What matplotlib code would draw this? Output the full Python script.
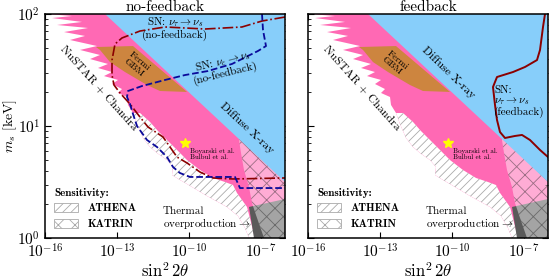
import numpy as np
import matplotlib
matplotlib.use('Agg')
import matplotlib.pyplot as plt
from matplotlib.patches import Patch
from matplotlib.font_manager import FontProperties
from matplotlib.ticker import FixedLocator, NullLocator

plt.rcParams['font.family'] = 'cmr10'
plt.rcParams['mathtext.fontset'] = 'cm'
plt.rcParams['axes.formatter.use_mathtext'] = True
plt.rcParams['hatch.linewidth'] = 0.6

# all values are log10(sin^2 2theta), log10(m_s / keV)
# NuSTAR + Chandra edge (jagged), top to bottom
nustar_lx = np.array([-15.917, -14.875, -15.708, -14.458, -15.5, -14.208, -15.208, -14.333,
                      -14.958, -13.833, -14.542, -13.708, -14.125, -13.375, -13.792, -13.208,
                      -13.542, -12.958, -13.208, -12.792, -12.958, -12.583, -12.542, -12.333])
nustar_ly = np.array([2.0, 1.982, 1.964, 1.929, 1.902, 1.875, 1.839, 1.804,
                      1.768, 1.714, 1.679, 1.634, 1.598, 1.554, 1.518, 1.482,
                      1.446, 1.411, 1.375, 1.330, 1.295, 1.259, 1.188, 1.116])

# ATHENA sensitivity band: lower-left edge and upper-right edge
athena_lo_lx = np.array([-12.333, -12.167, -11.917, -11.625, -11.333, -10.917, -10.667, -10.708,
                         -10.375, -10.083, -9.25, -8.417, -7.958, -7.667, -7.5])
athena_lo_ly = np.array([1.116, 1.018, 0.893, 0.8125, 0.759, 0.696, 0.634, 0.5625,
                         0.518, 0.482, 0.375, 0.277, 0.196, 0.089, 0.0])
athena_hi_lx = np.array([-12.042, -11.625, -11.292, -10.917, -10.5, -10.083, -9.542, -9.0,
                         -8.5, -8.167, -8.0, -7.583, -7.25])
athena_hi_ly = np.array([1.116, 1.036, 0.955, 0.875, 0.786, 0.696, 0.607, 0.536,
                         0.5, 0.473, 0.402, 0.277, 0.0])

# Fermi GBM
fermi_lx = np.array([-13.875, -12.333, -10.083, -11.208, -11.75, -12.667, -13.292, -13.708])
fermi_ly = np.array([1.705, 1.714, 1.304, 1.3125, 1.366, 1.482, 1.571, 1.679])

# Diffuse X-ray
xray_lx = np.array([-13.5, -6.0, -6.0])
xray_ly = np.array([2.0, 2.0, 0.5])

# thermal overproduction
thermal_lx = np.array([-7.5, -6.0, -6.0, -7.292])
thermal_ly = np.array([0.277, 0.348, 0.0, 0.0])

# KATRIN sensitivity
katrin_lx = np.array([-7.917, -7.917, -7.833, -7.708, -7.5, -7.375, -7.208, -6.875, -6.0, -6.0])
katrin_ly = np.array([1.232, 0.875, 0.759, 0.607, 0.455, 0.3125, 0.205, 0.0, 0.0, 1.232])

# SN nu_tau -> nu_s (no feedback)
sn_tau_lx = np.array([-6.0, -6.958, -7.792, -9.333, -11.0, -12.042, -12.792, -13.083, -13.208,
                      -13.208, -13.125, -12.875, -12.458, -12.042, -11.708, -11.083, -10.792,
                      -10.5, -10.083, -9.542, -9.0, -8.167, -6.0])
sn_tau_ly = np.array([1.973, 1.9375, 1.884, 1.866, 1.884, 1.848, 1.786, 1.732, 1.589,
                      1.455, 1.366, 1.295, 1.196, 1.080, 0.991, 0.902, 0.8125,
                      0.723, 0.670, 0.589, 0.536, 0.527, 0.536])

# SN nu_e -> nu_s (no feedback)
sn_e_lx = np.array([-6.958, -6.917, -6.792, -7.125, -8.208, -9.208, -10.167, -11.0, -11.958,
                    -12.542, -12.583, -12.458, -12.333, -12.167, -11.75, -11.333, -10.917,
                    -10.667, -10.375, -9.958, -8.083, -7.875, -6.0])
sn_e_ly = np.array([2.0, 1.857, 1.714, 1.670, 1.554, 1.491, 1.455, 1.411, 1.357,
                    1.3125, 1.259, 1.196, 1.107, 1.0, 0.875, 0.8125, 0.723,
                    0.634, 0.580, 0.545, 0.545, 0.446, 0.446])

# SN nu_tau -> nu_s (feedback)
sn_fb_lx = np.array([-6.125, -6.208, -6.333, -6.458, -6.958, -7.458, -8.125, -8.292, -8.208,
                     -8.125, -8.0, -7.792, -7.375, -7.083, -6.75, -6.333, -6.0])
sn_fb_ly = np.array([2.0, 1.884, 1.679, 1.589, 1.527, 1.482, 1.4375, 1.348, 1.1875,
                     1.054, 0.946, 0.893, 0.911, 0.920, 0.875, 0.786, 0.723])

# 3.5 keV line
line_x = 7e-11
line_m = 7.05

pink = '#FF69B4'
blue = '#87CEFA'
brown = '#CD853F'


def base(ax):
    px = np.concatenate([nustar_lx, athena_lo_lx[1:], [-6.0, -6.0]])
    py = np.concatenate([nustar_ly, athena_lo_ly[1:], [0.0, 2.0]])
    ax.fill(10**px, 10**py, color=pink, lw=0, zorder=1)
    ax.fill(10**fermi_lx, 10**fermi_ly, color=brown, lw=0, zorder=2)
    ax.fill(10**np.concatenate([athena_lo_lx, athena_hi_lx[::-1]]),
            10**np.concatenate([athena_lo_ly, athena_hi_ly[::-1]]),
            facecolor='white', edgecolor='#aaaaaa', hatch='////', lw=0, zorder=2)
    ax.fill(10**thermal_lx, 10**thermal_ly, color='#5a5a5a', lw=0, zorder=3)
    ax.fill(10**katrin_lx, 10**katrin_ly, facecolor='white', edgecolor='#222222',
            hatch='xx', lw=0, alpha=0.45, zorder=4)
    ax.fill(10**xray_lx, 10**xray_ly, color=blue, lw=0, zorder=5)
    ax.plot(line_x, line_m, marker='*', color='yellow', ms=7, zorder=8)
    ax.text(10**-9.958, 10**0.75, 'Boyarski et al.\nBulbul et al.', fontsize=5,
            ha='left', va='center', zorder=8, linespacing=1.1)
    ax.text(10**-11.083, 10**0.17, 'Thermal\noverproduction$\\rightarrow$', fontsize=8,
            ha='left', va='center', zorder=8, linespacing=1.0)
    ax.text(10**-13.75, 10**1.339, 'NuSTAR + Chandra', fontsize=8.5, rotation=-48,
            rotation_mode='anchor', ha='center', va='center', zorder=8)

    ax.set_xscale('log')
    ax.set_yscale('log')
    ax.set_xlim(1e-16, 1e-6)
    ax.set_ylim(1, 100)
    ax.xaxis.set_major_locator(FixedLocator([1e-16, 1e-13, 1e-10, 1e-7]))
    ax.xaxis.set_minor_locator(NullLocator())
    ax.tick_params(which='both', direction='in', top=True, right=True, labelsize=11)
    ax.tick_params(which='major', length=4, width=0.8)
    ax.tick_params(which='minor', length=2.5, width=0.6)
    for s in ax.spines.values():
        s.set_linewidth(1.1)
        s.set_zorder(10)
    ax.set_xlabel('$\\sin^2 2\\theta$', fontsize=12, labelpad=0)

    bold = FontProperties(family='cmb10', size=8)
    handles = [Patch(facecolor='white', edgecolor='#aaaaaa', hatch='////', lw=0.6),
               Patch(facecolor='white', edgecolor='#aaaaaa', hatch='xx', lw=0.6)]
    leg = ax.legend(handles, ['ATHENA', 'KATRIN'], title='Sensitivity:', loc='lower left',
                    frameon=False, prop=bold, title_fontproperties=bold, handlelength=2.2,
                    handleheight=0.8, labelspacing=0.5, borderaxespad=0.4, alignment='left')
    leg.set_zorder(9)


fig = plt.figure(figsize=(5.6, 2.8), dpi=100)
ax1 = fig.add_axes([45 / 560, 42 / 280, 240 / 560, 224 / 280])
ax2 = fig.add_axes([308 / 560, 42 / 280, 240 / 560, 224 / 280])

base(ax1)
ax1.plot(10**sn_tau_lx, 10**sn_tau_ly, color='#8B0000', ls='-.', lw=1.2, zorder=7)
ax1.plot(10**sn_e_lx, 10**sn_e_ly, color='#0A0A9A', ls='--', lw=1.3, zorder=7)
ax1.text(10**-12.167, 10**1.545, 'Fermi\nGBM', fontsize=7, rotation=-40,
         rotation_mode='anchor', ha='center', va='center', zorder=8, linespacing=1.0)
ax1.text(10**-7.583, 10**0.982, 'Diffuse X-ray', fontsize=8.5, rotation=-43,
         rotation_mode='anchor', ha='center', va='center', zorder=8)
ax1.text(10**-10.583, 10**1.875, 'SN: $\\nu_\\tau \\rightarrow \\nu_s$\n(no-feedback)',
         fontsize=8, ha='center', va='center', zorder=8, linespacing=1.0)
ax1.text(10**-8.542, 10**1.527, 'SN: $\\nu_e \\rightarrow \\nu_s$\n(no-feedback)',
         fontsize=8, rotation=14, rotation_mode='anchor', ha='center', va='center',
         zorder=8, linespacing=1.0)
ax1.set_title('no-feedback', fontsize=11, pad=0.5)
ax1.set_ylabel('$m_s$ [keV]', fontsize=10)
ax1.yaxis.set_label_coords(-0.108, 0.5)

base(ax2)
ax2.plot(10**sn_fb_lx, 10**sn_fb_ly, color='#8B0000', ls='-', lw=1.4, zorder=7)
ax2.text(10**-12.375, 10**1.5625, 'Fermi\nGBM', fontsize=7, rotation=-40,
         rotation_mode='anchor', ha='center', va='center', zorder=8, linespacing=1.0)
ax2.text(10**-10.167, 10**1.482, 'Diffuse X-ray', fontsize=8.5, rotation=-44,
         rotation_mode='anchor', ha='center', va='center', zorder=8)
ax2.text(10**-8.25, 10**1.214, 'SN:\n$\\nu_\\tau \\rightarrow \\nu_s$\n(feedback)',
         fontsize=8, ha='left', va='center', zorder=8, linespacing=1.0)
ax2.set_title('feedback', fontsize=11, pad=0.5)
ax2.tick_params(labelleft=False)

fig.savefig('out.png', dpi=100)
